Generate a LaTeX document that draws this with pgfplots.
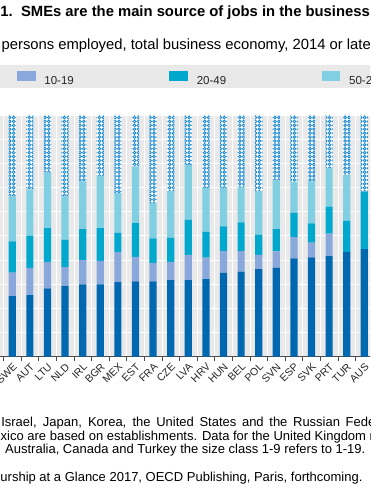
\documentclass[border=0pt]{standalone}
\usepackage{pgfplots}
\pgfplotsset{compat=1.18}
\usepackage{pgfplotstable}
\usepackage{fontspec}
\setmainfont{Liberation Sans}
\usetikzlibrary{patterns}
\definecolor{cA}{RGB}{0,103,177}
\definecolor{cB}{RGB}{137,168,219}
\definecolor{cC}{RGB}{0,168,206}
\definecolor{cD}{RGB}{128,207,226}
\definecolor{cE}{RGB}{30,140,210}
\definecolor{bggray}{RGB}{233,233,233}
\definecolor{leggray}{RGB}{233,233,233}
\pgfdeclarepatternformonly{rings}{\pgfqpoint{-1pt}{-1pt}}{\pgfqpoint{5pt}{5pt}}{\pgfqpoint{3.9pt}{3.9pt}}{%
  \pgfsetlinewidth{0.85pt}\pgfpathcircle{\pgfqpoint{1.95pt}{1.95pt}}{1.35pt}\pgfusepath{stroke}}

\pgfplotstableread{
x a b c d e
0 25.1 9.7 12.9 18.6 33.7
1 25.5 11.2 13.4 19.1 30.8
2 28.3 10.9 14.0 23.0 23.8
3 29.2 7.9 11.2 18.0 33.7
4 29.9 10.1 12.8 19.7 27.5
5 29.9 9.7 13.6 21.6 25.2
6 30.9 12.4 8.0 16.5 32.2
7 31.2 10.1 14.0 23.4 21.3
8 31.2 7.6 10.2 14.5 36.5
9 31.7 7.5 10.1 19.3 31.4
10 31.7 10.4 14.5 22.7 20.7
11 32.1 8.9 10.6 18.3 30.1
12 34.7 9.0 10.2 16.0 30.1
13 35.2 8.5 11.9 14.7 29.7
14 36.2 5.9 8.4 18.0 31.5
15 36.9 6.7 9.2 20.2 27.0
16 40.7 8.8 10.0 12.8 27.7
17 41.1 6.1 8.0 17.3 27.5
18 41.6 9.3 11.2 15.9 22.0
19 43.4 0 12.8 18.9 24.9
20 44.5 0 23.8 0 31.7
21 46.0 10.0 11.0 13.0 20.0
}\data

\begin{document}
\begin{tikzpicture}
\useasboundingbox (0pt,0pt) rectangle (370pt,490pt);
\clip (0pt,0pt) rectangle (370pt,490pt);
\fill[leggray] (0pt,402pt) rectangle (370pt,425pt);
\begin{axis}[
  at={(-14.1pt,133.3pt)}, anchor=south west,
  scale only axis, width=404.8pt, height=241.7pt,
  ybar stacked, bar width=7.2pt,
  xmin=-1.5, xmax=21.5, ymin=0, ymax=100,
  enlargelimits=false,
  axis background/.style={fill=bggray},
  separate axis lines,
  axis x line*=bottom, axis y line*=left,
  x axis line style={draw=black!70, line width=0.8pt},
  y axis line style={draw=none},
  xtick={0,...,21},
  xticklabels={SWE,AUT,LTU,NLD,IRL,BGR,MEX,EST,FRA,CZE,LVA,HRV,HUN,BEL,POL,SVN,ESP,SVK,PRT,TUR,AUS,ITA},
  major x tick style={draw=none},
  minor xtick={-0.5,0.5,...,21.5},
  minor x tick style={draw=black!70, line width=0.6pt},
  minor tick length=4pt,
  tick align=outside,
  xminorgrids=true, xmajorgrids=false, ymajorgrids=true,
  minor grid style={white, line width=0.5pt},
  major grid style={white, line width=0.8pt},
  ytick={0,10,...,100}, yticklabels={}, major y tick style={draw=none},
  xticklabel style={rotate=45, anchor=north east, inner sep=1pt,
    font=\fontsize{10.5}{11}\selectfont, text=black!85},
  legend style={
    at={(axis description cs:-0.29965,1.1506)}, anchor=west,
    draw=none, fill=none, inner sep=0pt, outer sep=0pt,
    legend columns=-1,
    nodes={inner sep=0pt, outer sep=0pt, font=\fontsize{11.5}{12}\selectfont, text=black!85},
    /tikz/every odd column/.append style={column sep=8.7pt},
    /tikz/every even column/.append style={column sep=0pt},
  },
  legend image code/.code={\fill[#1] (0pt,-0.3pt) rectangle (18.7pt,9.7pt);},
  legend entries={\makebox[125pt][l]{1-9},\makebox[125pt][l]{10-19},\makebox[125pt][l]{20-49},\makebox[125pt][l]{50-249},\makebox[125pt][l]{250+}},
]
\addplot[fill=cA, draw=none] table[x=x,y=a] {\data};
\addplot[fill=cB, draw=none] table[x=x,y=b] {\data};
\addplot[fill=cC, draw=none] table[x=x,y=c] {\data};
\addplot[fill=cD, draw=none] table[x=x,y=d] {\data};
\addplot[fill=white, draw=none, postaction={pattern=rings, pattern color=cE}] table[x=x,y=e] {\data};
\end{axis}
\node[anchor=base west, inner sep=0pt] at (0.3pt,473.2pt) {\fontsize{14.8}{16}\selectfont\bfseries\llap{Figure 1.}1.\ \ SMEs are the main source of jobs in the business economy};
\node[anchor=base west, inner sep=0pt] at (1.5pt,440pt) {\fontsize{14.8}{16}\selectfont\llap{Share of }persons employed, total business economy, 2014 or latest available year};
\node[anchor=base west, inner sep=0pt] at (4.7pt,63.3pt) {\fontsize{13}{14}\selectfont\llap{Note: Data for I}\makebox[363.3pt][s]{srael, Japan, Korea, the United States and the Russian Fed}eration refer to};
\node[anchor=base west, inner sep=0pt] at (0.5pt,49pt) {\fontsize{13}{14}\selectfont\llap{Data for Me}xico are based on establishments. Data for the United Kingdom refer to};
\node[anchor=base west, inner sep=0pt] at (5pt,36pt) {\fontsize{13}{14}\selectfont\llap{firms. For\hspace{6pt}}Australia, Canada and Turkey the size class 1-9 refers to 1-19.};
\node[anchor=base west, inner sep=0pt] at (0.3pt,9pt) {\fontsize{13}{14}\selectfont\llap{Source: OECD (2017), Entreprene}urship at a Glance 2017, OECD Publishing, Paris, forthcoming.};
\end{tikzpicture}
\end{document}
